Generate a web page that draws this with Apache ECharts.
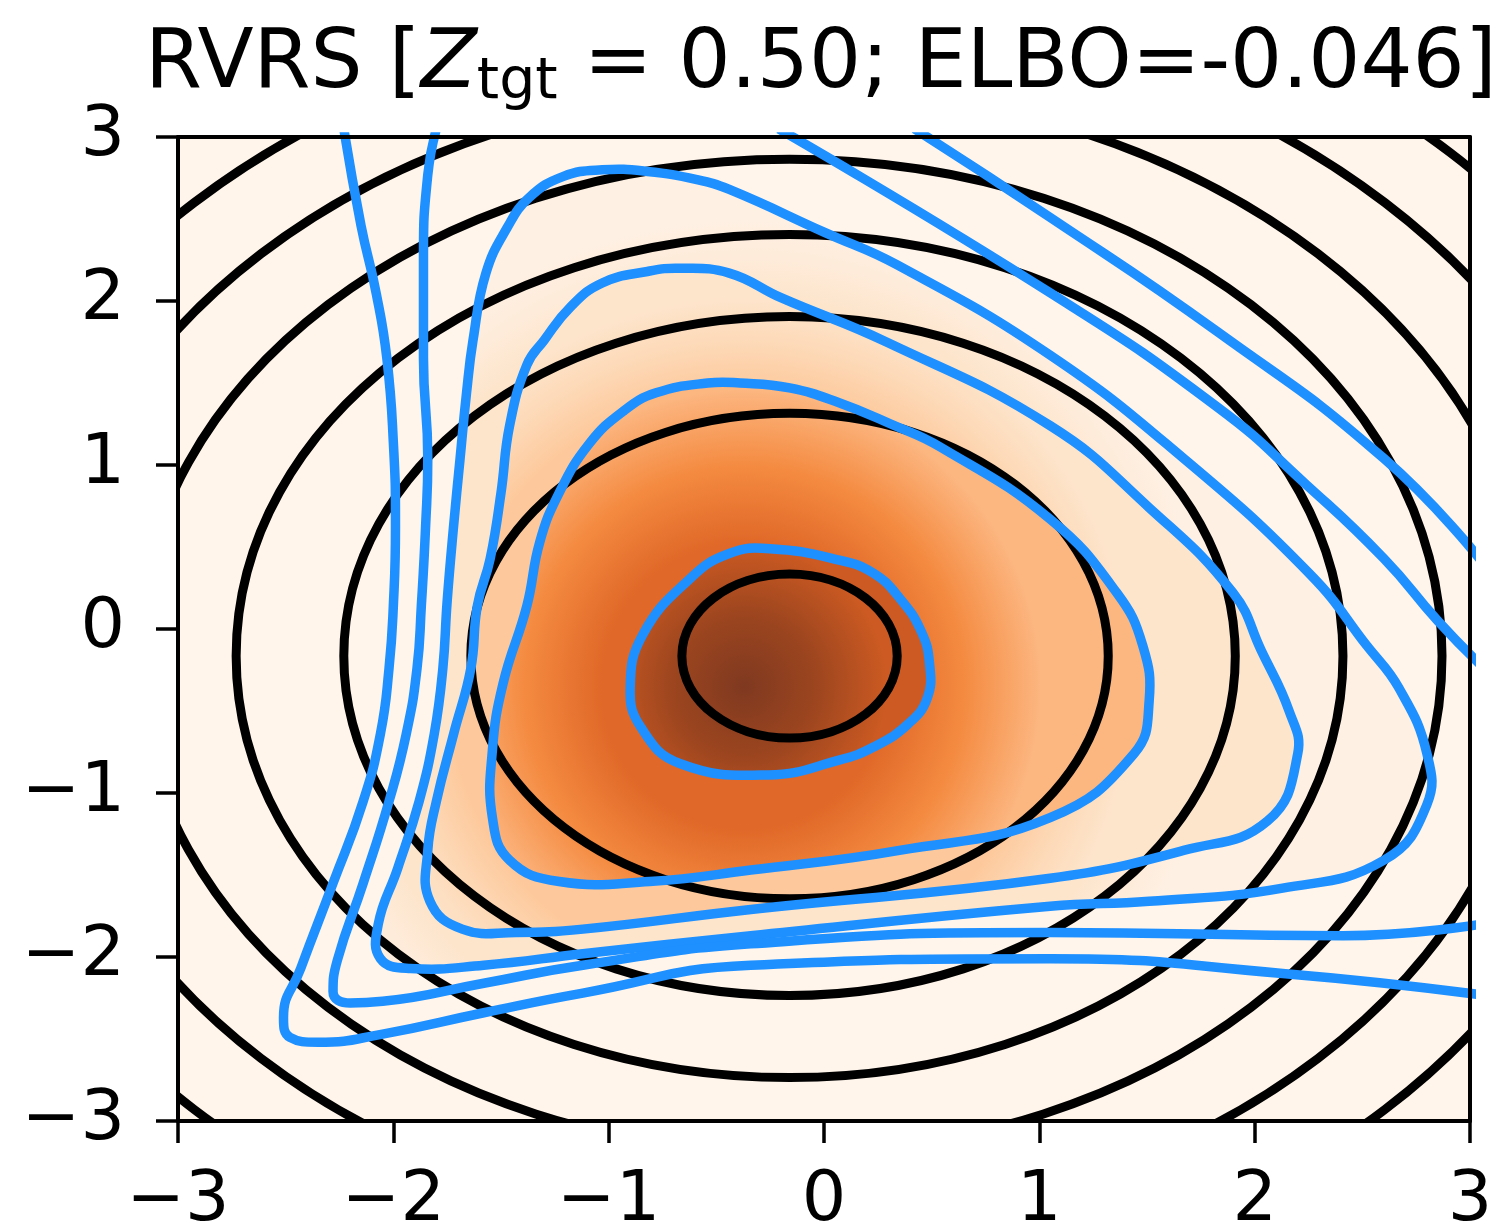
<!DOCTYPE html>
<html>
<head>
<meta charset="utf-8">
<title>RVRS contours</title>
<script src="https://cdn.jsdelivr.net/npm/echarts@6/dist/echarts.min.js"></script>
<style>
  html, body { margin: 0; padding: 0; background: #fff; }
  #chart-main { width: 1507px; height: 1228px; }
</style>
</head>
<body>
<div id="chart-main"></div>
<script>
// axis ticks
var tickValues = [-3, -2, -1, 0, 1, 2, 3];

// target density: circular contours around one centre
var targetCenter = [-0.16, -0.165];
var targetRadii = [0.5, 1.48, 2.07, 2.57, 3.03, 3.47, 3.91, 4.34];

// approximation q: where its density peaks
var qPeak = [-0.37, -0.35];

// closed contours of q, inner to outer
var qLoop1 = [[-0.25, 0.49], [0.07, 0.42], [0.23, 0.34], [0.35, 0.19], [0.45, -0.01], [0.49, -0.21],
  [0.48, -0.42], [0.39, -0.58], [0.23, -0.72], [0.07, -0.80], [-0.26, -0.89], [-0.67, -0.82],
  [-0.85, -0.60], [-0.90, -0.36], [-0.84, -0.03], [-0.62, 0.31], [-0.44, 0.46]];

var qLoop2 = [[-0.39, 1.50], [-0.16, 1.47], [0.07, 1.38], [0.31, 1.25], [0.54, 1.11], [1.05, 0.67],
  [1.36, 0.22], [1.48, -0.10], [1.51, -0.44], [1.44, -0.76], [1.05, -1.15], [0.35, -1.35],
  [-0.34, -1.47], [-0.81, -1.54], [-1.23, -1.54], [-1.46, -1.41], [-1.54, -1.15], [-1.54, -0.74],
  [-1.49, -0.33], [-1.38, 0.14], [-1.32, 0.53], [-1.23, 0.83], [-1.09, 1.13], [-0.93, 1.33],
  [-0.78, 1.44], [-0.54, 1.50]];

var qLoop3 = [[-0.67, 2.20], [-0.44, 2.17], [-0.20, 2.02], [0.29, 1.75], [1.05, 1.24], [1.51, 0.74],
  [1.90, 0.22], [2.03, -0.13], [2.16, -0.50], [2.20, -0.76], [2.06, -1.17], [1.67, -1.35],
  [1.05, -1.52], [-0.34, -1.71], [-1.12, -1.83], [-1.43, -1.85], [-1.68, -1.83], [-1.83, -1.66],
  [-1.84, -1.35], [-1.80, -1.05], [-1.72, -0.64], [-1.64, -0.24], [-1.61, 0.14], [-1.55, 0.43],
  [-1.50, 0.83], [-1.46, 1.24], [-1.38, 1.61], [-1.30, 1.76], [-1.18, 1.96], [-1.03, 2.11],
  [-0.82, 2.18]];

var qLoop4 = [[-1.03, 2.80], [-0.82, 2.79], [-0.59, 2.74], [-0.44, 2.68], [0.00, 2.42], [0.34, 2.22],
  [1.05, 1.67], [1.67, 1.04], [2.26, 0.33], [2.52, -0.10], [2.67, -0.36], [2.80, -0.76],
  [2.80, -1.07], [2.60, -1.41], [2.13, -1.58], [1.51, -1.66], [1.05, -1.69], [-0.34, -1.87],
  [-1.12, -1.98], [-1.58, -2.05], [-1.92, -2.07], [-2.06, -2.01], [-2.07, -1.80], [-1.98, -1.46],
  [-1.88, -1.05], [-1.81, -0.64], [-1.77, -0.24], [-1.75, 0.17], [-1.72, 0.63], [-1.69, 1.04],
  [-1.66, 1.44], [-1.63, 1.76], [-1.57, 2.17], [-1.47, 2.45], [-1.37, 2.63], [-1.21, 2.76]];

// open contours of q (they leave the frame)
var qOpen5a = [[-1.80, 3.05], [-1.84, 2.77], [-1.86, 2.26], [-1.86, 1.65], [-1.84, 1.04], [-1.85, 0.63],
  [-1.87, 0.14], [-1.89, -0.24], [-1.94, -0.64], [-2.02, -1.05], [-2.14, -1.55], [-2.26, -2.02],
  [-2.28, -2.21], [-2.20, -2.28], [-2.05, -2.27], [-1.58, -2.16], [-1.12, -2.05], [-0.34, -1.92],
  [1.05, -1.85], [2.41, -1.87], [3.05, -1.80]];
var qOpen5b = [[-0.21, 3.05], [1.05, 2.05], [1.83, 1.35], [2.24, 0.88], [2.60, 0.43], [2.85, 0.05], [3.05, -0.22]];
var qOpen6a = [[-2.23, 3.05], [-2.15, 2.46], [-2.08, 2.05], [-2.03, 1.65], [-2.00, 1.14], [-1.99, 0.63],
  [-2.00, 0.14], [-2.02, -0.24], [-2.06, -0.64], [-2.14, -1.05], [-2.28, -1.55], [-2.43, -2.07],
  [-2.51, -2.37], [-2.48, -2.49], [-2.35, -2.52], [-2.05, -2.47], [-1.58, -2.34], [-1.12, -2.22],
  [-0.34, -2.05], [1.05, -2.01], [2.13, -2.10], [3.05, -2.23]];
var qOpen6b = [[0.42, 3.05], [1.05, 2.51], [1.83, 1.81], [2.60, 1.04], [3.05, 0.42]];

var loops = [qLoop1, qLoop2, qLoop3, qLoop4];
var openLines = [qOpen5a, qOpen5b, qOpen6a, qOpen6b];

// orange shading, [inner, middle, outer] for each band
var shade = [
  ['#7f3920', '#9c451f', '#cc5a22'],
  ['#e06828', '#f48a40', '#fcb680'],
  ['#fdc99c', '#fdd9b7', '#fde5cc'],
  ['#fde5cc', '#feebd9', '#fef0e3']
];
var blue = '#1e90ff';

var myChart = echarts.init(document.getElementById('chart-main'));

function toPx(api, list) {
  return list.map(function (p) { return api.coord(p); });
}

function meanDist(pts, c) {
  var s = 0;
  for (var i = 0; i < pts.length; i++) {
    s += Math.sqrt(Math.pow(pts[i][0] - c[0], 2) + Math.pow(pts[i][1] - c[1], 2));
  }
  return s / pts.length;
}

function fillSeries(k) {
  return {
    type: 'custom', z: 1, silent: true, clip: true,
    data: loops[k],
    renderItem: function (params, api) {
      if (params.dataIndex !== 0) return null;
      var pts = toPx(api, loops[k]);
      var c = api.coord(qPeak);
      var r = meanDist(pts, c);
      var f = k > 0 ? meanDist(toPx(api, loops[k - 1]), c) / r : 0;
      var s = shade[k];
      var grad = new echarts.graphic.RadialGradient(c[0], c[1], r, [
        { offset: f, color: s[0] },
        { offset: (f + 1) / 2, color: s[1] },
        { offset: 1, color: s[2] }
      ], true);
      return { type: 'polygon', shape: { points: pts, smooth: 0.45 }, style: { fill: grad, stroke: null } };
    }
  };
}

function loopSeries(k) {
  return {
    type: 'custom', z: 4, silent: true, clip: true,
    data: loops[k],
    renderItem: function (params, api) {
      if (params.dataIndex !== 0) return null;
      return {
        type: 'polygon',
        shape: { points: toPx(api, loops[k]), smooth: 0.45 },
        style: { fill: 'none', stroke: blue, lineWidth: 9.5 }
      };
    }
  };
}

var series = [];
for (var k = loops.length - 1; k >= 0; k--) series.push(fillSeries(k));

// target contours
series.push({
  type: 'custom', z: 3, silent: true, clip: true,
  data: targetRadii.map(function (r) { return [targetCenter[0], targetCenter[1], r]; }),
  renderItem: function (params, api) {
    var c = api.coord([api.value(0), api.value(1)]);
    var s = api.size([api.value(2), api.value(2)]);
    return {
      type: 'ellipse',
      shape: { cx: c[0], cy: c[1], rx: s[0], ry: s[1] },
      style: { fill: 'none', stroke: '#000', lineWidth: 9 }
    };
  }
});

for (k = 0; k < loops.length; k++) series.push(loopSeries(k));
openLines.forEach(function (line) {
  series.push({
    type: 'line', z: 4, silent: true, data: line, smooth: 0.5, showSymbol: false,
    lineStyle: { color: blue, width: 9.5 }
  });
});

var font = 'DejaVu Sans';
function minusLabel(v) { return v < 0 ? '\u2212' + (-v) : String(v); }

var axisLine = { show: true, onZero: false, lineStyle: { color: '#000', width: 4 } };
var axisTick = { show: true, length: 22, lineStyle: { color: '#000', width: 3.5 } };
var frameAxis = {
  type: 'value', min: tickValues[0], max: tickValues[tickValues.length - 1], interval: 1, z: 10,
  axisLine: axisLine, axisTick: { show: false }, axisLabel: { show: false }, splitLine: { show: false }
};

var option = {
  backgroundColor: '#fff',
  animation: false,
  title: {
    text: '{n|RVRS [}{z|Z}{s|tgt}{n| = 0.50; ELBO=-0.046]}',
    left: 140, top: 14,
    textStyle: {
      fontWeight: 'normal',
      rich: {
        n: { fontFamily: font, fontSize: 82, fontWeight: 'normal', color: '#000' },
        z: { fontFamily: font, fontSize: 82, fontWeight: 'normal', fontStyle: 'italic', color: '#000' },
        s: { fontFamily: font, fontSize: 57, fontWeight: 'normal', color: '#000', padding: [36, 0, 0, 0] }
      }
    }
  },
  grid: {
    left: 178, right: 37, top: 137, bottom: 107, outerBoundsMode: 'none',
    show: true, backgroundColor: '#fff5eb', borderWidth: 0
  },
  xAxis: [
    {
      type: 'value', min: tickValues[0], max: tickValues[tickValues.length - 1], interval: 1, z: 10,
      axisLine: axisLine, axisTick: axisTick, splitLine: { show: false },
      axisLabel: { margin: 46, fontFamily: font, fontSize: 70, color: '#000', formatter: minusLabel }
    },
    Object.assign({ position: 'top' }, frameAxis)
  ],
  yAxis: [
    {
      type: 'value', min: tickValues[0], max: tickValues[tickValues.length - 1], interval: 1, z: 10,
      axisLine: axisLine, axisTick: axisTick, splitLine: { show: false },
      axisLabel: { margin: 53, fontFamily: font, fontSize: 70, color: '#000', formatter: minusLabel }
    },
    Object.assign({ position: 'right' }, frameAxis)
  ],
  series: series
};

myChart.setOption(option);
</script>
</body>
</html>
